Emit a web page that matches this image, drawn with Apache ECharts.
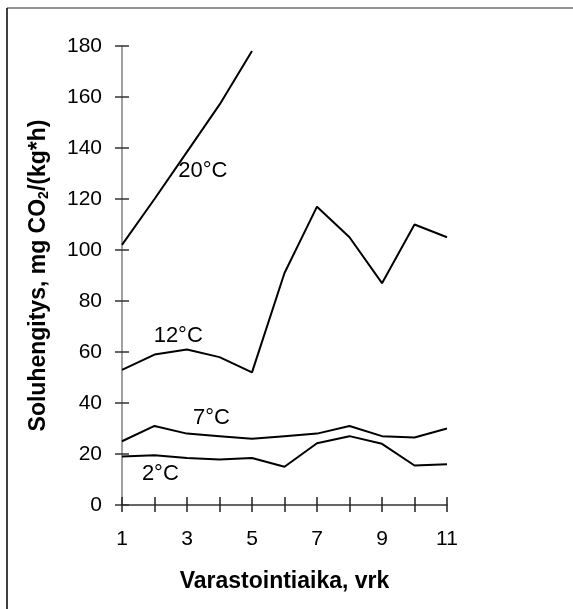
<!DOCTYPE html>
<html>
<head>
<meta charset="utf-8">
<script src="https://cdn.jsdelivr.net/npm/echarts@6/dist/echarts.min.js"></script>
<style>
  html, body { margin: 0; padding: 0; background: #fff; }
  #main { width: 573px; height: 609px; }
</style>
</head>
<body>
<div id="main"></div>
<script>
// päivät (vrk)
var days = [1, 2, 3, 4, 5, 6, 7, 8, 9, 10, 11]
// soluhengitys eri lämpötiloissa
var temp20 = [102, 120, 138.5, 157, 178]
var temp12 = [53, 59, 61, 58, 52, 91, 117, 105, 87, 110, 105]
var temp7 = [25, 31, 28, 27, 26, 27, 28, 31, 27, 26.5, 30]
var temp2 = [19, 19.5, 18.4, 17.8, 18.4, 15, 24.2, 27, 24, 15.5, 16]
var seriesNames = ['20°C', '12°C', '7°C', '2°C']
var yTicks = [0, 20, 40, 60, 80, 100, 120, 140, 160, 180]

var font = 'Liberation Sans, Arial, sans-serif'

function pairs(vals) {
  return vals.map(function (v, i) { return [days[i], v] })
}

// tekstien paikat (vrk, arvo)
var labelAt = [[3.49, 131], [2.73, 66.4], [3.75, 34], [2.18, 12.3]]

var chart = echarts.init(document.getElementById('main'), null, { renderer: 'canvas' })

var allData = [temp20, temp12, temp7, temp2]
var series = allData.map(function (vals, i) {
  return {
    name: seriesNames[i],
    type: 'line',
    data: pairs(vals),
    xAxisIndex: 0,
    yAxisIndex: 0,
    symbol: 'none',
    lineStyle: { color: '#000', width: 2 },
    silent: true,
    markPoint: {
      symbol: 'circle',
      symbolSize: 0,
      silent: true,
      data: [{
        coord: labelAt[i],
        label: {
          show: true,
          formatter: seriesNames[i],
          color: '#000',
          fontSize: 22,
          fontFamily: font
        }
      }]
    }
  }
})

var option = {
  animation: false,
  backgroundColor: '#fff',
  grid: { left: 122, right: 126, top: 46, bottom: 104 },
  xAxis: [{
    type: 'value',
    min: 1,
    max: 11,
    interval: 1,
    name: 'Varastointiaika, vrk',
    nameLocation: 'middle',
    nameGap: 65,
    nameTextStyle: { color: '#000', fontSize: 23, fontWeight: 'bold', fontFamily: font },
    axisLine: { lineStyle: { color: '#333', width: 1.5 } },
    axisTick: { length: 7, lineStyle: { color: '#222', width: 1.5 } },
    axisLabel: {
      color: '#000', fontSize: 21, fontFamily: font, margin: 24,
      formatter: function (v) { return v % 2 === 1 ? String(v) : '' }
    },
    splitLine: { show: false }
  }, {
    type: 'value',
    min: 1,
    max: 11,
    interval: 1,
    position: 'bottom',
    axisLine: { show: false },
    axisTick: { inside: true, length: 8, lineStyle: { color: '#222', width: 1.5 } },
    axisLabel: { show: false },
    splitLine: { show: false }
  }],
  yAxis: [{
    type: 'value',
    min: 0,
    max: 180,
    interval: 20,
    name: 'Soluhengitys, mg CO{sub|2}/(kg*h)',
    nameLocation: 'middle',
    nameGap: 71,
    nameTextStyle: {
      color: '#000', fontSize: 23, fontWeight: 'bold', fontFamily: font,
      rich: {
        sub: { fontSize: 14, fontWeight: 'bold', fontFamily: font, color: '#000', padding: [10, 0, 0, 0] }
      }
    },
    axisLine: { lineStyle: { color: '#808080', width: 1.5 } },
    axisTick: { length: 7, lineStyle: { color: '#333', width: 1.5 } },
    axisLabel: {
      color: '#000', fontSize: 21, fontFamily: font, margin: 20,
      formatter: function (v) { return yTicks.indexOf(v) >= 0 ? String(v) : '' }
    },
    splitLine: { show: false }
  }, {
    type: 'value',
    min: 0,
    max: 180,
    interval: 20,
    position: 'left',
    axisLine: { show: false },
    axisTick: { inside: true, length: 7, lineStyle: { color: '#333', width: 1.5 } },
    axisLabel: { show: false },
    splitLine: { show: false }
  }],
  graphic: [
    { type: 'line', shape: { x1: 7, y1: 8, x2: 573, y2: 8 }, style: { stroke: '#707070', lineWidth: 1.5 } },
    { type: 'line', shape: { x1: 7, y1: 8, x2: 7, y2: 609 }, style: { stroke: '#000', lineWidth: 1.5 } }
  ],
  series: series
}

chart.setOption(option)
</script>
</body>
</html>
